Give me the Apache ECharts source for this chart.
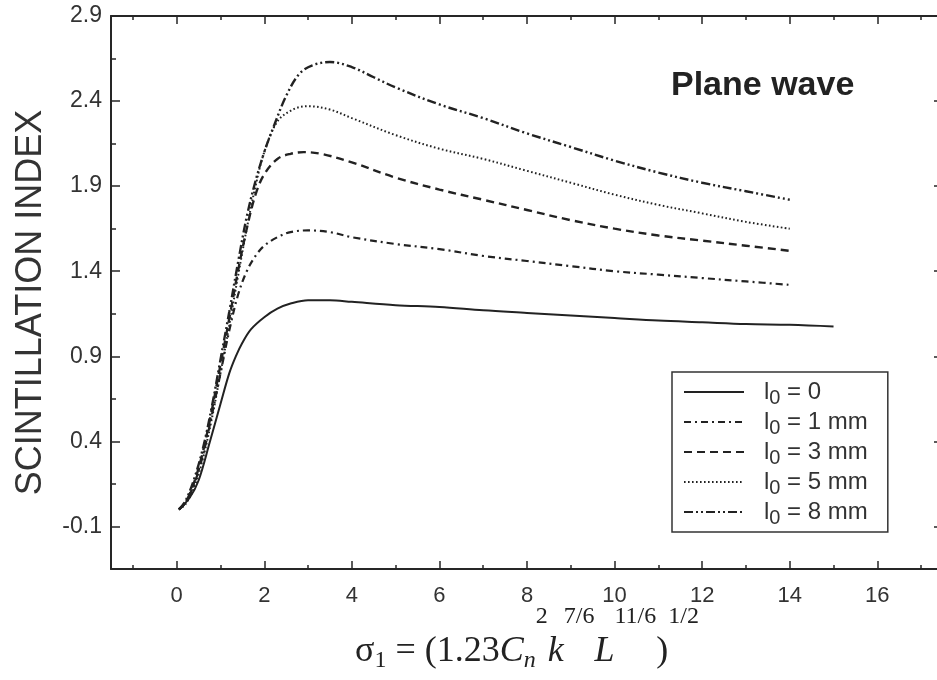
<!DOCTYPE html>
<html>
<head>
<meta charset="utf-8">
<script src="https://cdn.jsdelivr.net/npm/echarts@6/dist/echarts.min.js"></script>
<style>
html,body{margin:0;padding:0;background:#fff;}
#chart{width:937px;height:680px;}
</style>
</head>
<body>
<div id="chart"></div>
<script>
// ---- data ----
const seriesNames = ['l0 = 0', 'l0 = 1 mm', 'l0 = 3 mm', 'l0 = 5 mm', 'l0 = 8 mm'];
const legendLabels = ['{l|l}{s|0}{t| = 0}', '{l|l}{s|0}{t| = 1 mm}', '{l|l}{s|0}{t| = 3 mm}', '{l|l}{s|0}{t| = 5 mm}', '{l|l}{s|0}{t| = 8 mm}'];

const xL0 = [0.05, 0.3, 0.5, 0.75, 1.0, 1.2, 1.35, 1.5, 1.7, 2.0, 2.3, 2.6, 3.0, 3.5, 4, 5, 6, 7, 8, 9, 10, 11, 12, 13, 14, 15];
const yL0 = [0.0, 0.07, 0.17, 0.39, 0.62, 0.80, 0.90, 0.98, 1.06, 1.13, 1.18, 1.21, 1.23, 1.23, 1.22, 1.20, 1.19, 1.17, 1.155, 1.14, 1.125, 1.11, 1.10, 1.09, 1.085, 1.075];

const xL1 = [0.05, 0.2, 0.4, 0.6, 0.8, 1.0, 1.2, 1.4, 1.6, 1.8, 2.0, 2.3, 2.6, 3.0, 3.5, 4, 5, 6, 7, 8, 9, 10, 11, 12, 13, 14];
const yL1 = [0.0, 0.04, 0.15, 0.32, 0.55, 0.80, 1.05, 1.26, 1.40, 1.49, 1.55, 1.60, 1.63, 1.64, 1.63, 1.60, 1.56, 1.53, 1.49, 1.46, 1.43, 1.40, 1.38, 1.36, 1.34, 1.32];

const xL3 = [0.05, 0.2, 0.4, 0.6, 0.8, 1.0, 1.2, 1.4, 1.6, 1.8, 2.0, 2.3, 2.6, 2.9, 3.3, 4, 5, 6, 7, 8, 9, 10, 11, 12, 13, 14];
const yL3 = [0.0, 0.04, 0.16, 0.34, 0.58, 0.85, 1.12, 1.40, 1.65, 1.85, 1.97, 2.06, 2.09, 2.10, 2.09, 2.04, 1.95, 1.88, 1.82, 1.76, 1.70, 1.65, 1.61, 1.58, 1.55, 1.52];

const xL5 = [0.05, 0.2, 0.4, 0.6, 0.8, 1.0, 1.2, 1.4, 1.6, 1.8, 2.0, 2.3, 2.65, 3.0, 3.5, 4, 5, 6, 7, 8, 9, 10, 11, 12, 13, 14];
const yL5 = [0.0, 0.03, 0.13, 0.30, 0.53, 0.80, 1.08, 1.37, 1.65, 1.90, 2.10, 2.28, 2.35, 2.37, 2.35, 2.30, 2.20, 2.12, 2.06, 1.99, 1.92, 1.85, 1.79, 1.74, 1.69, 1.65];

const xL8 = [0.05, 0.2, 0.4, 0.6, 0.8, 1.0, 1.2, 1.4, 1.6, 1.8, 2.0, 2.2, 2.5, 2.8, 3.1, 3.5, 4, 4.5, 5, 6, 7, 8, 9, 10, 11, 12, 13, 14];
const yL8 = [0.0, 0.05, 0.18, 0.36, 0.60, 0.88, 1.16, 1.45, 1.72, 1.93, 2.10, 2.24, 2.43, 2.56, 2.61, 2.63, 2.60, 2.54, 2.48, 2.38, 2.30, 2.21, 2.13, 2.05, 1.98, 1.92, 1.87, 1.82];

const xTickLabels = [0, 2, 4, 6, 8, 10, 12, 14, 16];
const xMinorTicks = [-1, 1, 3, 5, 7, 9, 11, 13, 15, 17];
const yTickLabels = [-0.1, 0.4, 0.9, 1.4, 1.9, 2.4, 2.9];
const yMinorTicks = [0.15, 0.65, 1.15, 1.65, 2.15, 2.65];

// ---- chart ----
const ink = '#262626';
const sans = 'Liberation Sans, Arial, Helvetica, sans-serif';
const serif = 'Liberation Serif, Times New Roman, serif';
function zip(xs, ys) { return xs.map((x, i) => [x, ys[i]]); }

const dashes = ['solid', [7, 4, 2, 4], [8, 5], [1.6, 2.4], [9, 3, 2, 3, 2, 3]];
const widths = [2, 2.2, 2.4, 2, 2.4];
const xsAll = [xL0, xL1, xL3, xL5, xL8];
const ysAll = [yL0, yL1, yL3, yL5, yL8];

const XMIN = -1.5, XMAX = 17.5, YMIN = -0.35, YMAX = 2.9;

function xAx(pos, ticks, len, showLine, showLabel, extra) {
  return Object.assign({
    type: 'value', position: pos, min: XMIN, max: XMAX,
    axisLine: { show: showLine, onZero: false, lineStyle: { color: ink, width: 2 } },
    axisTick: { show: true, inside: true, length: len, customValues: ticks, lineStyle: { color: ink, width: 1.5 } },
    axisLabel: { show: showLabel, customValues: showLabel ? xTickLabels : undefined, margin: 16, color: '#333', fontSize: 22, fontFamily: sans },
    splitLine: { show: false }
  }, extra || {});
}
function yAx(pos, ticks, len, showLine, showLabel, extra) {
  return Object.assign({
    type: 'value', position: pos, min: YMIN, max: YMAX,
    axisLine: { show: showLine, onZero: false, lineStyle: { color: ink, width: 2 } },
    axisTick: { show: true, inside: true, length: len, customValues: ticks, lineStyle: { color: ink, width: 1.5 } },
    axisLabel: { show: showLabel, customValues: showLabel ? yTickLabels : undefined, margin: 9, color: '#333', fontSize: 23, fontFamily: sans },
    splitLine: { show: false }
  }, extra || {});
}

const xName = '{m|σ}{sub|1}{m| = (1.23}{mi|C}{subi|n}{sup|2}{mi|k}{sup|7/6}{mi|L}{sup|11/6}{m|)}{sup|1/2}';

const option = {
  animation: false,
  backgroundColor: '#fff',
  title: {
    text: 'Plane wave', left: 666, top: 64,
    textStyle: { fontFamily: sans, fontWeight: 'bold', fontSize: 34, color: '#222' }
  },
  grid: { left: 111, width: 832, top: 16, bottom: 111, containLabel: false, outerBoundsMode: 'none' },
  legend: {
    orient: 'vertical', left: 672, top: 372,
    data: seriesNames,
    formatter: function (name) { return legendLabels[seriesNames.indexOf(name)]; },
    itemWidth: 60, itemHeight: 14, itemGap: 2,
    padding: [8, 20, 4, 11],
    borderColor: '#333', borderWidth: 1.5, backgroundColor: '#fff',
    itemStyle: { color: 'rgba(0,0,0,0)', borderColor: 'rgba(0,0,0,0)', borderWidth: 0, opacity: 0 },
    textStyle: {
      color: '#333', fontFamily: sans, fontSize: 24,
      rich: {
        l: { fontSize: 24, fontFamily: sans, color: '#333', padding: [0, 0, 0, 15] },
        s: { fontSize: 20, fontFamily: sans, color: '#333', padding: [12, 0, 0, 0] },
        t: { fontSize: 24, fontFamily: sans, color: '#333' }
      }
    }
  },
  xAxis: [
    xAx('bottom', xTickLabels, 8, true, true, {
      name: xName, nameLocation: 'middle', nameGap: 36, nameMoveOverlap: false,
      nameTextStyle: {
        rich: {
          m: { fontFamily: serif, fontSize: 36, color: '#222' },
          mi: { fontFamily: serif, fontSize: 36, fontStyle: 'italic', color: '#222' },
          sub: { fontFamily: serif, fontSize: 24, color: '#222', padding: [18, 0, 0, 0] },
          subi: { fontFamily: serif, fontSize: 24, fontStyle: 'italic', color: '#222', padding: [18, 0, 0, 0] },
          sup: { fontFamily: serif, fontSize: 24, color: '#222', padding: [0, 0, 70, 0] }
        }
      }
    }),
    xAx('bottom', xMinorTicks, 4, false, false),
    xAx('top', xTickLabels, 8, true, false),
    xAx('top', xMinorTicks, 4, false, false)
  ],
  yAxis: [
    yAx('left', yTickLabels, 9, true, true, {
      name: 'SCINTILLATION INDEX', nameLocation: 'middle', nameRotate: 90, nameGap: 62,
      nameTextStyle: { fontFamily: sans, fontSize: 36, color: '#333', padding: [0, 20, 0, 0] }
    }),
    yAx('left', yMinorTicks, 5, false, false),
    yAx('right', yTickLabels, 9, true, false),
    yAx('right', yMinorTicks, 5, false, false)
  ],
  series: seriesNames.map((n, i) => ({
    name: n, type: 'line', xAxisIndex: 0, yAxisIndex: 0,
    data: zip(xsAll[i], ysAll[i]),
    smooth: 0.35,
    symbol: 'none', showSymbol: false,
    lineStyle: { color: '#222', width: widths[i], type: dashes[i] },
    itemStyle: { color: '#222' },
    emphasis: { disabled: true }
  }))
};

const chart = echarts.init(document.getElementById('chart'), null, { renderer: 'canvas' });
chart.setOption(option);
</script>
</body>
</html>
